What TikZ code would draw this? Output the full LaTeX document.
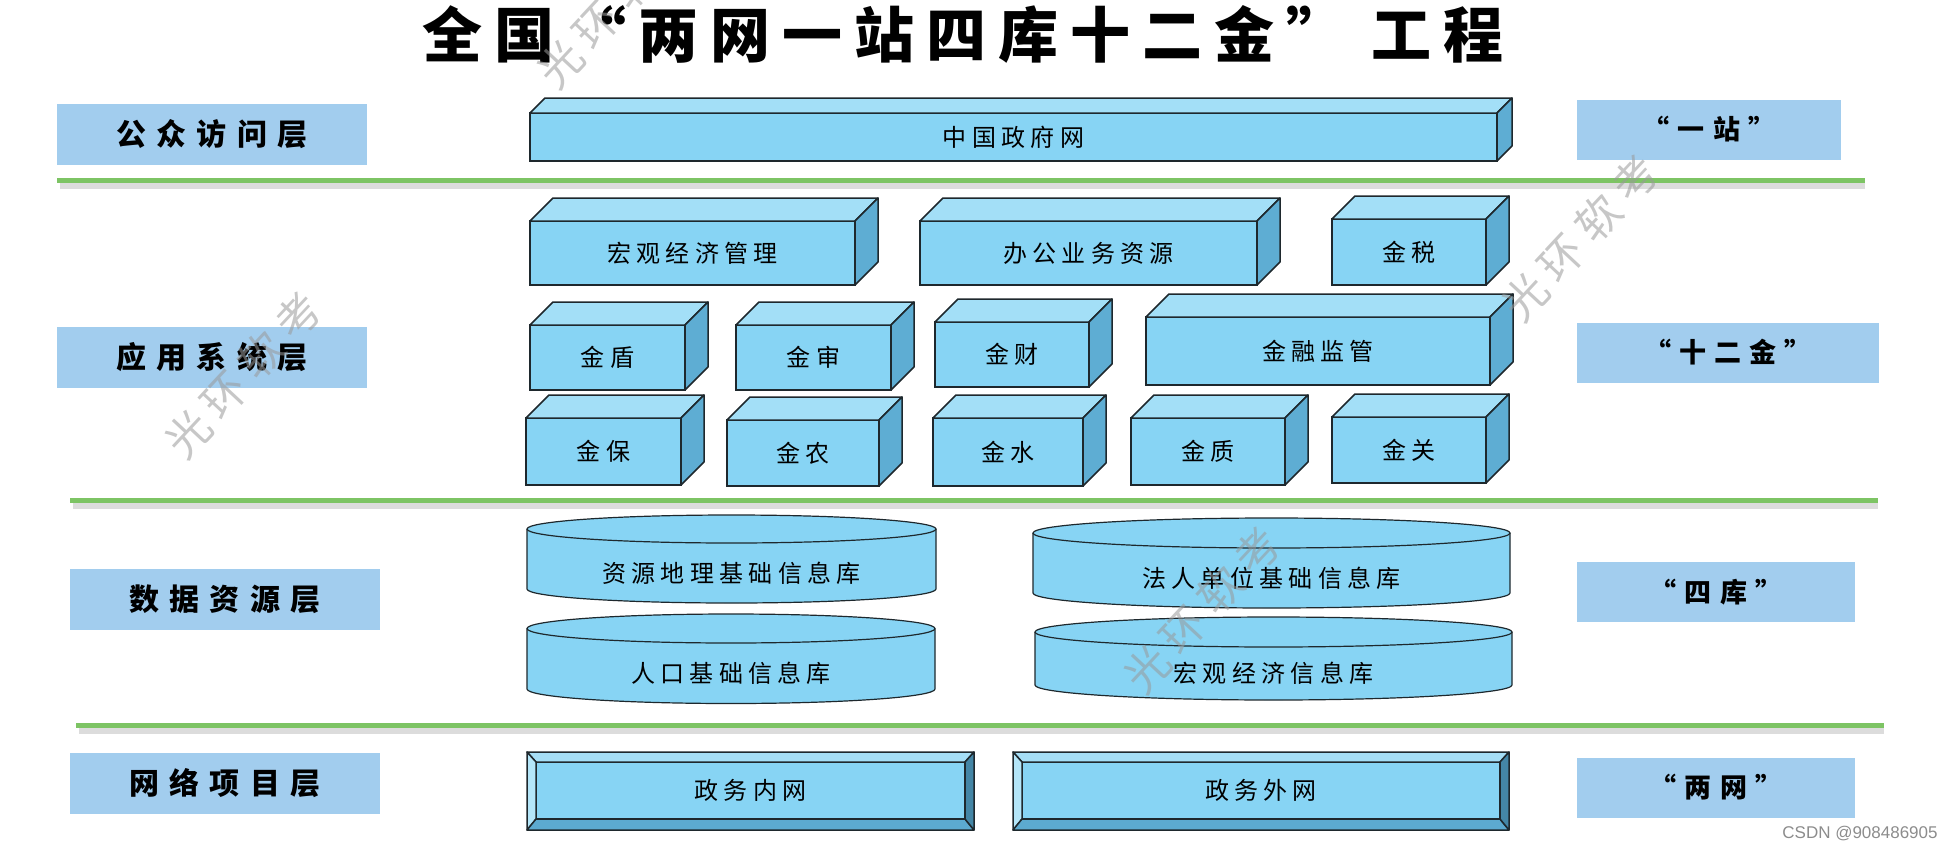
\documentclass[tikz,border=0pt]{standalone}
\usepackage{fontspec}
\setmainfont{Noto Sans CJK SC}
\newfontfamily\titlefont[LetterSpace=20]{Noto Sans CJK SC}
\newfontfamily\layerfont[LetterSpace=34]{Noto Sans CJK SC}
\newfontfamily\tagfont[LetterSpace=30]{Noto Sans CJK SC}
\newfontfamily\boxfont[LetterSpace=22]{Noto Sans CJK SC}
\newfontfamily\wmfont[LetterSpace=22]{Noto Sans CJK SC}
\newfontfamily\csdnfont{Liberation Sans}
\definecolor{labelblue}{RGB}{162,205,238}
\definecolor{boxfront}{RGB}{135,212,244}
\definecolor{boxtop}{RGB}{163,223,247}
\definecolor{boxside}{RGB}{94,173,211}
\definecolor{edge}{RGB}{30,40,45}
\definecolor{sepgreen}{RGB}{125,196,100}
\definecolor{bevlight}{RGB}{180,230,249}
\definecolor{bevtop}{RGB}{165,222,246}
\definecolor{bevbottom}{RGB}{92,170,208}
\definecolor{bevdark}{RGB}{68,134,166}

\begin{document}
\begin{tikzpicture}[x=1pt, y=-1pt,
    layer/.style={fill=labelblue, minimum width=310pt, minimum height=61pt, inner sep=0pt,
                  font=\layerfont\bfseries\fontsize{30}{32}\selectfont},
    tag/.style={fill=labelblue, minimum height=60pt, inner sep=0pt,
                font=\tagfont\bfseries\fontsize{27}{29}\selectfont},
    front/.style={draw=edge, line width=1.5pt, fill=boxfront, inner sep=0pt, outer sep=0pt,
                  font=\boxfont\fontsize{24}{26}\selectfont},
    face/.style={draw=edge, line width=1.5pt, line join=round},
    cyl/.style={draw=edge, line width=1.2pt, fill=boxfront},
    dbtext/.style={font=\boxfont\fontsize{24}{26}\selectfont},
    sepline/.style={sepgreen, line width=5pt},
    sepshadow/.style={black!30, line width=6pt, opacity=0.45},
    wm/.style={rotate=47, text=black!40, text opacity=0.55,
               font=\wmfont\fontsize{44}{46}\selectfont},
  ]
  \useasboundingbox (0,0) rectangle (1943,849);

  \node[font=\titlefont\bfseries\fontsize{60}{64}\selectfont] (title) at (963,34) {全国“两网一站四库十二金” 工程};

  \foreach \y/\xa/\xb in {180/57/1865, 500/70/1878, 725/76/1884} {
    \draw[sepshadow] (\xa+3,\y+6) -- (\xb,\y+6);
    \draw[sepline] (\xa,\y) -- (\xb,\y);
  }

  \node[layer] (public) at (212,134.5) {公众访问层};
  \node[layer] (apps) at (212,357.5) {应用系统层};
  \node[layer] (data) at (225,599) {数据资源层};
  \node[layer] (network) at (225,783.5) {网络项目层};

  \node[tag, minimum width=264pt] (yizhan) at (1709,129.5) {“一站”};
  \node[tag, minimum width=302pt] (shier) at (1728,352.5) {“十二金”};
  \node[tag, minimum width=278pt] (siku) at (1716,592) {“四库”};
  \node[tag, minimum width=278pt] (liangwang) at (1716,787.5) {“两网”};

  \node[front, minimum width=967pt, minimum height=48pt] (gov) at (1013.5,137) {中国政府网};
  \node[front, minimum width=325pt, minimum height=64pt] (macro) at (692.5,253) {宏观经济管理};
  \node[front, minimum width=337pt, minimum height=64pt] (office) at (1088.5,253) {办公业务资源};
  \node[front, minimum width=154pt, minimum height=66pt] (jtax) at (1409,252) {金税};
  \node[front, minimum width=155pt, minimum height=65pt] (jdun) at (607.5,357.5) {金盾};
  \node[front, minimum width=155pt, minimum height=65pt] (jshen) at (813.5,357.5) {金审};
  \node[front, minimum width=154pt, minimum height=65pt] (jcai) at (1012,354.5) {金财};
  \node[front, minimum width=344pt, minimum height=68pt] (jrjg) at (1318,351) {金融监管};
  \node[front, minimum width=155pt, minimum height=67pt] (jbao) at (603.5,451.5) {金保};
  \node[front, minimum width=152pt, minimum height=66pt] (jnong) at (803,453) {金农};
  \node[front, minimum width=150pt, minimum height=68pt] (jshui) at (1008,452) {金水};
  \node[front, minimum width=154pt, minimum height=67pt] (jzhi) at (1208,451.5) {金质};
  \node[front, minimum width=154pt, minimum height=66pt] (jguan) at (1409,450) {金关};

  \foreach \n/\d in {gov/15, macro/23, office/23, jtax/23, jdun/23, jshen/23, jcai/23,
                     jrjg/23, jbao/23, jnong/23, jshui/23, jzhi/23, jguan/23} {
    \draw[face, fill=boxtop] (\n.north west) -- ++(\d,-\d) -- ([shift={(\d,-\d)}]\n.north east) -- (\n.north east) -- cycle;
    \draw[face, fill=boxside] (\n.north east) -- ++(\d,-\d) -- ([shift={(\d,-\d)}]\n.south east) -- (\n.south east) -- cycle;
  }

  \foreach \n/\cx/\ty/\by/\rx/\ry/\txt in {geo/731.5/529/589/204.5/14/资源地理基础信息库,
      people/731/628.5/689/204/14.5/人口基础信息库,
      legal/1271.5/533/593/238.5/15/法人单位基础信息库,
      econ/1273.5/632/685/238.5/15/宏观经济信息库} {
    \filldraw[cyl] (\cx-\rx,\ty) -- (\cx-\rx,\by) arc[start angle=180, end angle=0, x radius=\rx, y radius=\ry] -- (\cx+\rx,\ty);
    \filldraw[cyl] (\cx,\ty) ellipse[x radius=\rx, y radius=\ry];
    \node[dbtext] (\n) at (\cx,{(\ty+\by)/2+\ry}) {\txt};
  }

  \node[front, minimum width=429pt, minimum height=57pt] (intranet) at (750.5,790.5) {政务内网};
  \node[front, minimum width=478pt, minimum height=57pt] (extranet) at (1261,790.5) {政务外网};
  \foreach \n in {intranet, extranet} {
    \draw[face, fill=bevtop] ([shift={(-9,-10)}]\n.north west) -- ([shift={(9,-10)}]\n.north east) -- (\n.north east) -- (\n.north west) -- cycle;
    \draw[face, fill=bevlight] ([shift={(-9,-10)}]\n.north west) -- (\n.north west) -- (\n.south west) -- ([shift={(-9,11)}]\n.south west) -- cycle;
    \draw[face, fill=bevbottom] ([shift={(-9,11)}]\n.south west) -- (\n.south west) -- (\n.south east) -- ([shift={(9,11)}]\n.south east) -- cycle;
    \draw[face, fill=bevdark] ([shift={(9,-10)}]\n.north east) -- ([shift={(9,11)}]\n.south east) -- (\n.south east) -- (\n.north east) -- cycle;
  }

  \node[wm] (wmtop) at (615,5) {光环软考};
  \node[wm] (wmleft) at (243,375) {光环软考};
  \node[wm] (wmright) at (1580,238) {光环软考};
  \node[wm] (wmmid) at (1202,610) {光环软考};
  \node[font=\csdnfont\fontsize{17}{18}\selectfont, text=black!45] (csdn) at (1860,834) {CSDN @908486905};
\end{tikzpicture}
\end{document}
